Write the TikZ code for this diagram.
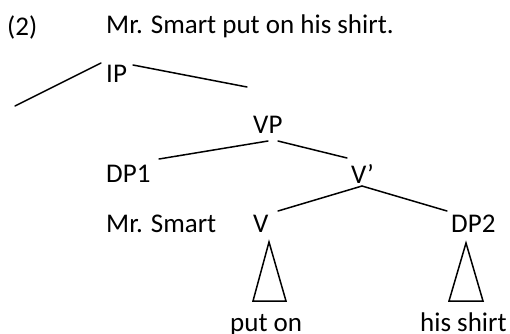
\documentclass[tikz,border=0pt]{standalone}
\usepackage{fontspec}
\setmainfont{Carlito}
\begin{document}
\begin{tikzpicture}[x=1pt,y=-1pt,
  lbl/.style={inner sep=0pt,anchor=base west,font=\fontsize{27}{32}\selectfont},
  branch/.style={line width=1.5pt,line cap=round},
  tri/.style={line width=1.5pt,line join=miter}]
\useasboundingbox (0,0) rectangle (510,333);

% heading
\node[lbl] (num) at (7,35) {(2)};
\node[lbl] (sent) at (106,33) {Mr. Smart put on his shirt.};

% tree labels
\node[lbl] (IP)  at (106,82)  {IP};
\node[lbl] (VP)  at (253,133) {VP};
\node[lbl] (DP1) at (106,182) {DP1};
\node[lbl] (Vbar) at (351,183) {V’};
\node[lbl] (ms)  at (106,232) {Mr. Smart};
\node[lbl] (V)   at (253,232) {V};
\node[lbl] (DP2) at (451,232) {DP2};
\node[lbl] (puton) at (230,331) {put on};
\node[lbl] (hisshirt) at (420,331) {his shirt};

% branch end points
\coordinate (IP-l) at (101,63);
\coordinate (IP-r) at (133,65);
\coordinate (IP-lx) at (15,106);
\coordinate (IP-rx) at (247,87);
\coordinate (VP-l) at (268,141);
\coordinate (VP-r) at (278,141);
\coordinate (DP1-t) at (159,159);
\coordinate (Vbar-t) at (347,158);
\coordinate (Vbar-b) at (362,186);
\coordinate (V-t) at (278,211);
\coordinate (DP2-t) at (447,211);

\draw[branch] (IP-l) -- (IP-lx);
\draw[branch] (IP-r) -- (IP-rx);
\draw[branch] (VP-l) -- (DP1-t);
\draw[branch] (VP-r) -- (Vbar-t);
\draw[branch] (Vbar-b) -- (V-t);
\draw[branch] (Vbar-b) -- (DP2-t);

% roof triangles
\draw[tri] (269,242) -- (286,301) -- (253,301) -- cycle;
\draw[tri] (466,243) -- (483,301) -- (449,301) -- cycle;
\end{tikzpicture}
\end{document}
